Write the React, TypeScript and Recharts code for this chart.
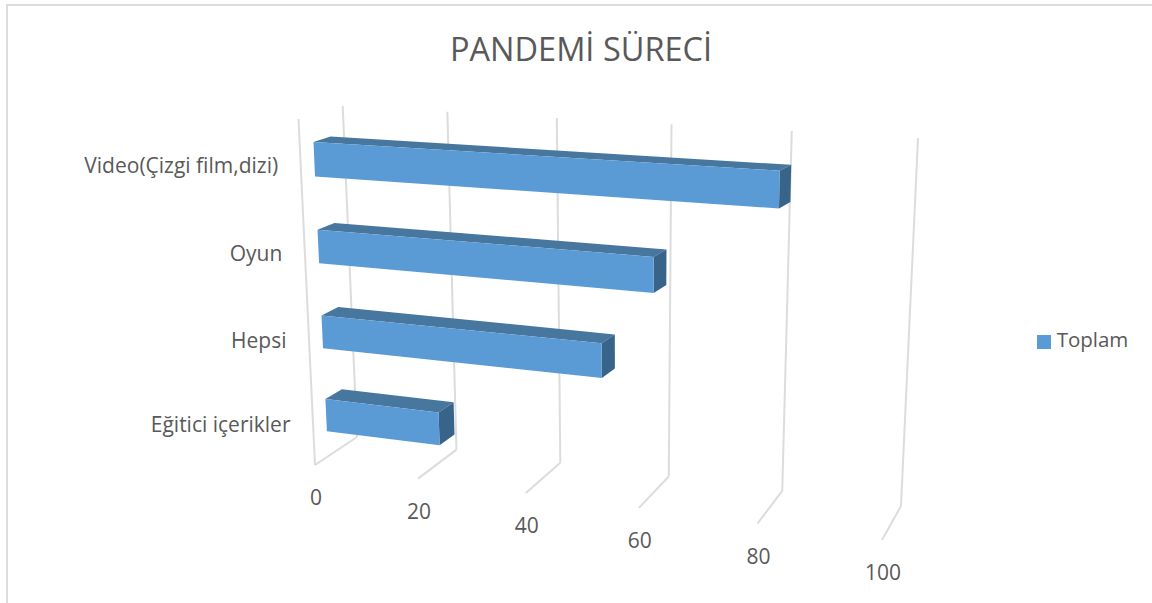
import { BarChart, Bar, XAxis, YAxis, CartesianGrid, Legend } from "recharts";

const categories = ["Video(Çizgi film,dizi)", "Oyun", "Hepsi", "Eğitici içerikler"];
const toplam = [81.5, 61, 52, 22];
const valueTicks = [0, 20, 40, 60, 80, 100];

const data = categories.map((name, i) => ({ name, Toplam: toplam[i] }));

const WIDTH = 1152;
const HEIGHT = 603;
// flat plot area, everything in it gets projected to the tilted box below
const PLOT = { left: 100, top: 100, width: 800, height: 400 };

const GRID = "#dcdcdc";
const TEXT = "#595959";
const FONT = "'Open Sans', sans-serif";

type Pt = [number, number];

// unit square -> quad (bl, br, tr, tl)
function quad(p0: Pt, p1: Pt, p2: Pt, p3: Pt) {
  const dx1 = p1[0] - p2[0];
  const dx2 = p3[0] - p2[0];
  const sx = p0[0] - p1[0] + p2[0] - p3[0];
  const dy1 = p1[1] - p2[1];
  const dy2 = p3[1] - p2[1];
  const sy = p0[1] - p1[1] + p2[1] - p3[1];
  const den = dx1 * dy2 - dx2 * dy1;
  const g = (sx * dy2 - dx2 * sy) / den;
  const h = (dx1 * sy - sx * dy1) / den;
  const a = p1[0] - p0[0] + g * p1[0];
  const b = p3[0] - p0[0] + h * p3[0];
  const d = p1[1] - p0[1] + g * p1[1];
  const e = p3[1] - p0[1] + h * p3[1];
  return (u: number, v: number): Pt => {
    const q = g * u + h * v + 1;
    return [(a * u + b * v + p0[0]) / q, (d * u + e * v + p0[1]) / q];
  };
}

const frontWall = quad([315, 465], [882, 540], [892, 152], [298.5, 119]);
const backWall = quad([357, 437], [901, 506], [918, 138], [342.7, 106]);

// flat chart x,y plus depth (0 front, 1 back) to screen
function project(x: number, y: number, depth: number): Pt {
  const u = (x - PLOT.left) / PLOT.width;
  const v = (PLOT.top + PLOT.height - y) / PLOT.height;
  const f = frontWall(u, v);
  const b = backWall(u, v);
  return [f[0] + (b[0] - f[0]) * depth, f[1] + (b[1] - f[1]) * depth];
}

const poly = (pts: Pt[]) => pts.map((p) => `${p[0].toFixed(1)},${p[1].toFixed(1)}`).join(" ");

const BAR_FRONT = 0.31;
const BAR_BACK = 0.7;

const Bar3D = ({ x, y, width, height }: any) => {
  const x2 = x + width;
  const y2 = y + height;
  const fTL = project(x, y, BAR_FRONT);
  const fTR = project(x2, y, BAR_FRONT);
  const fBR = project(x2, y2, BAR_FRONT);
  const fBL = project(x, y2, BAR_FRONT);
  const bTL = project(x, y, BAR_BACK);
  const bTR = project(x2, y, BAR_BACK);
  const bBR = project(x2, y2, BAR_BACK);
  return (
    <g>
      <polygon points={poly([fTL, bTL, bTR, fTR])} fill="#47779f" />
      <polygon points={poly([fTR, bTR, bBR, fBR])} fill="#38648a" />
      <polygon points={poly([fTL, fTR, fBR, fBL])} fill="#5b9bd5" />
    </g>
  );
};

const line = (a: Pt, b: Pt) => (
  <line x1={a[0]} y1={a[1]} x2={b[0]} y2={b[1]} stroke={GRID} strokeWidth={2} />
);

// wall line + floor line for one value tick
const GridLine = (props: any) => {
  const { x1, key } = props;
  const top = PLOT.top;
  const bottom = PLOT.top + PLOT.height;
  return (
    <g key={key}>
      {line(project(x1, bottom, 1), project(x1, top, 1))}
      {line(project(x1, bottom, 1), project(x1, bottom, 0))}
      {x1 === PLOT.left && line(project(x1, bottom, 0), project(x1, top, 0))}
    </g>
  );
};

const ValueTick = ({ x, payload }: any) => {
  const p = project(x, PLOT.top + PLOT.height, 0);
  return (
    <text x={p[0] + 1} y={p[1] + 40} textAnchor="middle" fontSize={21} fontFamily={FONT} fill={TEXT}>
      {payload.value}
    </text>
  );
};

const CategoryTick = ({ y, payload }: any) => {
  const p = project(PLOT.left, y, 0);
  return (
    <text x={p[0] - 22.5} y={p[1] + 9} textAnchor="end" fontSize={21} fontFamily={FONT} fill={TEXT}>
      {payload.value}
    </text>
  );
};

export default function App() {
  return (
    <div style={{ position: "absolute", left: 0, top: 0, width: WIDTH, height: HEIGHT, background: "#fff", overflow: "hidden" }}>
      <div style={{ position: "absolute", left: 6, top: 4, right: -4, bottom: -4, borderLeft: `2px solid ${GRID}`, borderTop: `2px solid ${GRID}` }} />
      <div style={{ position: "absolute", left: 0, width: 1162, top: 27, textAlign: "center", fontFamily: FONT, fontSize: 32.5, color: TEXT, lineHeight: "44px" }}>
        PANDEMİ SÜRECİ
      </div>
      <BarChart
        width={WIDTH}
        height={HEIGHT}
        data={data}
        layout="vertical"
        barCategoryGap="30.3%"
        margin={{
          left: PLOT.left - 1,
          top: PLOT.top,
          right: WIDTH - PLOT.left - PLOT.width,
          bottom: HEIGHT - PLOT.top - PLOT.height - 1,
        }}
        style={{ position: "absolute", left: 0, top: 0 }}
      >
        <CartesianGrid horizontal={false} vertical={GridLine} syncWithTicks />
        <XAxis type="number" domain={[0, 100]} ticks={valueTicks} height={1} axisLine={false} tickLine={false} tick={ValueTick} interval={0} />
        <YAxis type="category" dataKey="name" width={1} axisLine={false} tickLine={false} tick={CategoryTick} interval={0} />
        <Legend
          layout="horizontal"
          align="center"
          verticalAlign="middle"
          iconType="square"
          iconSize={14}
          wrapperStyle={{ left: 1025, top: 325, width: 125, fontFamily: FONT, fontSize: 20.5 }}
          formatter={(value) => <span style={{ color: TEXT, paddingLeft: 2 }}>{value}</span>}
        />
        <Bar dataKey="Toplam" fill="#5b9bd5" shape={Bar3D} isAnimationActive={false} />
      </BarChart>
    </div>
  );
}
